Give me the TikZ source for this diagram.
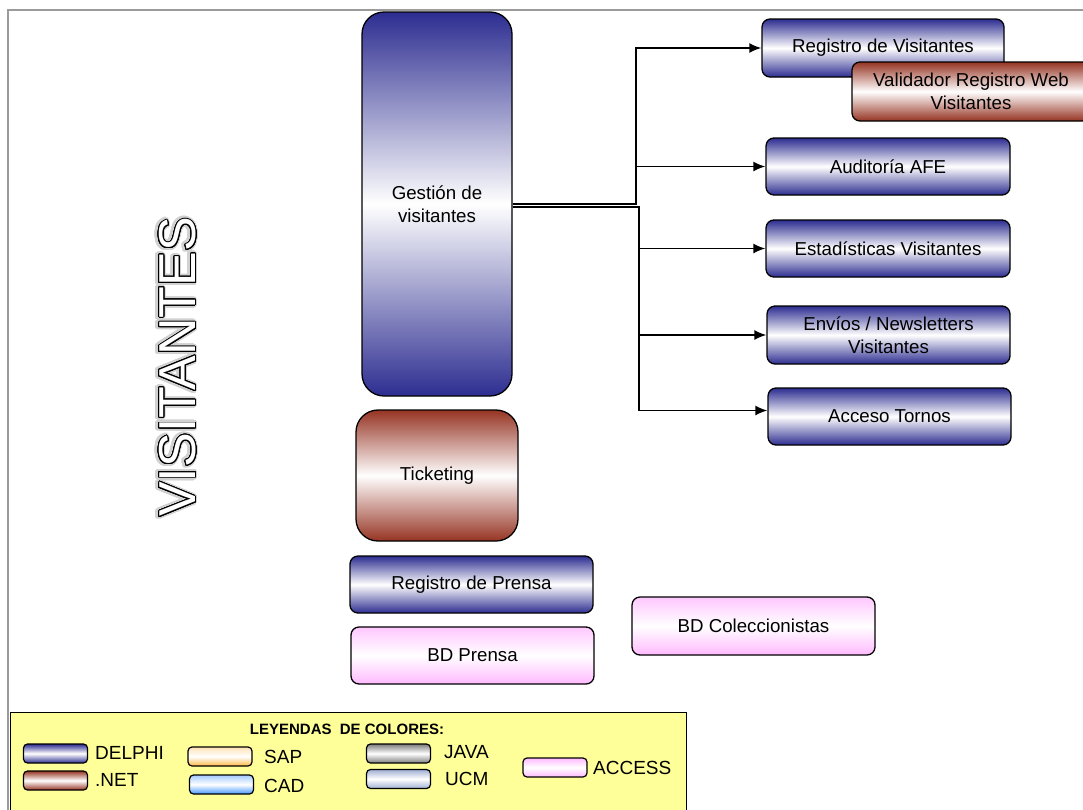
\documentclass[tikz,border=0pt]{standalone}
\usepackage{fontspec}
\setmainfont{Liberation Sans}
\usepackage{contour}
\usetikzlibrary{arrows.meta}

\definecolor{delphiC}{RGB}{45,45,145}
\definecolor{netC}{RGB}{150,52,35}
\definecolor{accessC}{RGB}{255,185,255}
\definecolor{sapC}{RGB}{255,185,70}
\definecolor{cadC}{RGB}{70,150,255}
\definecolor{javaC}{RGB}{125,125,125}
\definecolor{ucmC}{RGB}{160,175,210}
\definecolor{legendC}{RGB}{255,255,153}
\definecolor{frameC}{RGB}{155,155,155}

\begin{document}
\begin{tikzpicture}[x=1pt,y=-1pt,
  box/.style={draw=black, line width=1.3pt, rounded corners=8pt, inner sep=0pt,
    align=center, font=\fontsize{18.7}{23.5}\selectfont},
  delphi/.style={box, top color=delphiC, bottom color=delphiC, middle color=white},
  dotnet/.style={box, top color=netC, bottom color=netC, middle color=white},
  access/.style={box, top color=accessC!80, bottom color=accessC, middle color=white},
  swatch/.style={draw=black, line width=1.2pt, rounded corners=4pt, inner sep=0pt,
    minimum width=64pt, minimum height=19pt},
  lbl/.style={anchor=west, inner sep=0pt, font=\fontsize{19}{22}\selectfont},
  link/.style={draw=black, line width=1.7pt, -{Latex[length=12pt,width=10pt]}},
]
\useasboundingbox (0,0) rectangle (1083,809);
\clip (0,0) rectangle (1083,809);

% page frame
\draw[frameC, line width=2pt] (8,815) -- (8,10) -- (1090,10);

% vertical title with outline and soft halo
\node[rotate=90, inner sep=0pt, font=\fontsize{52}{52}\selectfont] (haloT) at (178,367)
  {\contourlength{3pt}\color{black!18}\contour[32]{black!18}{VISITANTES}};
\node[rotate=90, inner sep=0pt, font=\fontsize{52}{52}\selectfont] (titulo) at (178,367)
  {\contourlength{0.9pt}\color{white}\contour[24]{black}{VISITANTES}};

% main application blocks
\node[delphi, rounded corners=22pt, minimum width=150pt, minimum height=384pt] (gest) at (437,204)
  {Gesti\'on de\\visitantes};
\node[dotnet, rounded corners=22pt, minimum width=162pt, minimum height=131pt] (tick) at (437,475.5)
  {Ticketing};
\node[delphi, minimum width=243pt, minimum height=57pt] (regp) at (471.5,584.5)
  {Registro de Prensa};
\node[access, minimum width=243pt, minimum height=57pt] (bdp) at (472.5,655.5)
  {BD Prensa};
\node[access, minimum width=243pt, minimum height=58pt] (bdc) at (753.5,626)
  {BD Coleccionistas};

% dependent applications
\node[delphi, minimum width=242pt, minimum height=58pt] (regv) at (883,48)
  {Registro de Visitantes};
\node[dotnet, minimum width=238pt, minimum height=59pt] (valid) at (971,91.5)
  {Validador Registro Web\\Visitantes};
\node[delphi, minimum width=244pt, minimum height=57pt] (aud) at (888,166.5)
  {Auditor\'ia AFE};
\node[delphi, minimum width=244pt, minimum height=57pt] (est) at (888,248.5)
  {Estad\'isticas Visitantes};
\node[delphi, minimum width=243pt, minimum height=58pt] (env) at (888.5,335)
  {Env\'ios / Newsletters\\Visitantes};
\node[delphi, minimum width=243pt, minimum height=57pt] (acc) at (889.5,416.5)
  {Acceso Tornos};

% connectors
\draw[link] (gest.east) -- (636,204) |- (regv.west);
\draw[link] (gest.east) -- (636,204) |- (aud.west);
\draw[link] ([yshift=-3pt]gest.east) -- (639,207) |- (est.west);
\draw[link] ([yshift=-3pt]gest.east) -- (639,207) |- (env.west);
\draw[link] ([yshift=-3pt]gest.east) -- (639,207) |- ([yshift=6pt]acc.west);

% colour legend
\node[draw=black, line width=1.3pt, fill=legendC, anchor=north west, inner sep=0pt,
  minimum width=676pt, minimum height=103pt] (ley) at (10,712) {};
\node[inner sep=0pt, font=\bfseries\fontsize{15}{17}\selectfont] (leyT) at (347,729)
  {LEYENDAS\ \ DE COLORES:};

\node[swatch, top color=delphiC, bottom color=delphiC, middle color=white] (sDel) at (55.5,753.5) {};
\node[lbl] (tDel) at (95,753) {DELPHI};
\node[swatch, top color=netC, bottom color=netC, middle color=white] (sNet) at (55.5,780.5) {};
\node[lbl] (tNet) at (95,780) {.NET};
\node[swatch, top color=sapC!40, bottom color=sapC, middle color=white] (sSap) at (220,756.5) {};
\node[lbl] (tSap) at (264,757) {SAP};
\node[swatch, top color=cadC!50, bottom color=cadC, middle color=white] (sCad) at (221.5,784.5) {};
\node[lbl] (tCad) at (264,786) {CAD};
\node[swatch, top color=javaC, bottom color=javaC, middle color=white] (sJav) at (398.5,753.5) {};
\node[lbl] (tJav) at (444,752) {JAVA};
\node[swatch, top color=ucmC, bottom color=ucmC, middle color=white] (sUcm) at (398.5,779) {};
\node[lbl] (tUcm) at (445,779) {UCM};
\node[swatch, top color=accessC, bottom color=accessC, middle color=white] (sAcc) at (555,767.5) {};
\node[lbl] (tAcc) at (593,768) {ACCESS};
\end{tikzpicture}
\end{document}
